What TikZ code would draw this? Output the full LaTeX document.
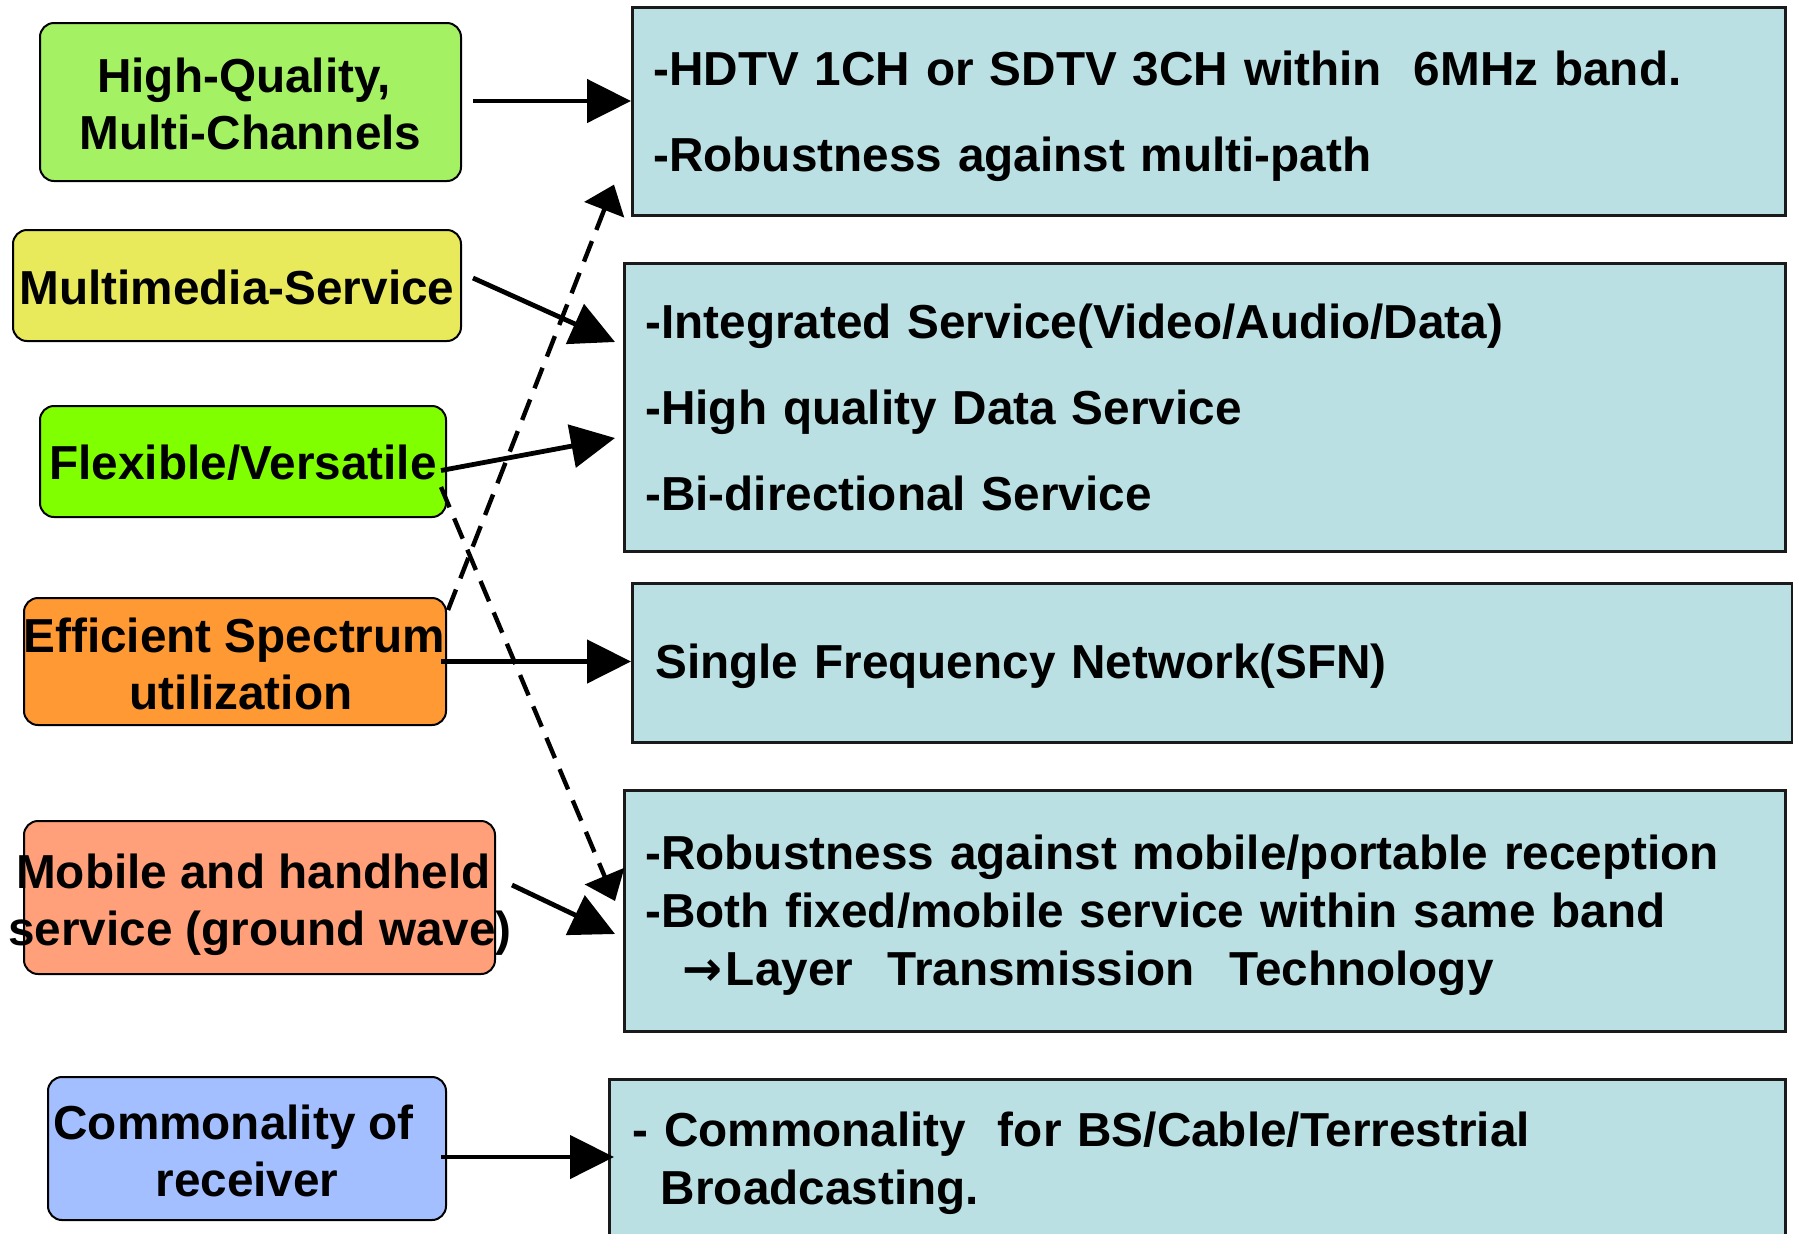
\documentclass[tikz,border=0pt]{standalone}
\usepackage{fontspec}
\setmainfont{Liberation Sans}
\newfontfamily\arrowglyph{DejaVu Sans}
\usetikzlibrary{arrows.meta,calc}

\definecolor{hqgreen}{HTML}{A4F263}
\definecolor{mmyellow}{HTML}{E8EA5C}
\definecolor{fvgreen}{HTML}{80FF00}
\definecolor{esorange}{HTML}{FF9933}
\definecolor{mhsalmon}{HTML}{FFA07A}
\definecolor{crblue}{HTML}{A3BFFF}
\definecolor{boxcyan}{HTML}{BAE0E3}
\definecolor{boxline}{HTML}{1A1A1A}

\begin{document}
\begin{tikzpicture}[x=0.5pt,y=-0.5pt,
  lbox/.style={draw=black, line width=1pt, rounded corners=7pt, inner sep=0pt},
  ltext/.style={font=\fontsize{23.85}{28.5}\selectfont\bfseries, align=center, inner sep=0pt},
  rbox/.style={draw=boxline, line width=1.3pt, fill=boxcyan, anchor=north west,
    align=left, inner ysep=0pt},
  rwide/.style={font=\fontsize{23.85}{43}\selectfont\bfseries},
  rtight/.style={font=\fontsize{23.85}{29}\selectfont\bfseries},
  arr/.style={line width=2.4pt, -{Triangle[length=22pt,width=21.5pt]}},
  darr/.style={line width=2.2pt, dash pattern=on 11pt off 6pt,
    -{Triangle[length=13.5pt,width=21pt]}},
]
\useasboundingbox (0,0) rectangle (1793,1233);

% requirement boxes (left column)
\node[lbox, fill=hqgreen,  minimum width=210.5pt, minimum height=79pt]   (hq) at (250.5,102)    {};
\node[lbox, fill=mmyellow, minimum width=224pt,   minimum height=55.5pt] (mm) at (237,285.5)    {};
\node[lbox, fill=fvgreen,  minimum width=203pt,   minimum height=55.5pt] (fv) at (243,461.5)    {};
\node[lbox, fill=esorange, minimum width=211pt,   minimum height=63.5pt] (es) at (235,661.5)    {};
\node[lbox, fill=mhsalmon, minimum width=235.5pt, minimum height=76.5pt] (mh) at (259.5,897.5)  {};
\node[lbox, fill=crblue,   minimum width=199pt,   minimum height=71.5pt] (cr) at (247,1148.5)   {};

\node[ltext] (hqt) at (250.5,104) {High-Quality,\hspace*{0.28em}\\Multi-Channels};
\node[ltext] (mmt) at (237,287)   {Multimedia-Service};
\node[ltext] (fvt) at (243,463)   {Flexible/Versatile};
\node[ltext] (est) at (241,664)   {Efficient Spectrum\hspace*{0.28em}\\utilization};
\node[ltext] (mht) at (260,904.5) {Mobile and handheld\hspace*{0.28em}\\service (ground wave)};
\node[ltext] (crt) at (247,1151)  {Commonality of\hspace*{0.56em}\\receiver};

% feature boxes (right column); the leading struts set the text's vertical place
\node[rbox, rwide, minimum width=576.5pt, minimum height=104pt,
  text width=555.5pt, inner xsep=10.5pt] (A) at (631,6)
  {\rule{0pt}{22pt}-HDTV 1CH or SDTV 3CH within~~6MHz band.\\-Robustness against multi-path};
\node[rbox, rwide, minimum width=580.5pt, minimum height=144pt,
  text width=559.5pt, inner xsep=10.5pt] (B) at (623,262)
  {-Integrated Service(Video/Audio/Data)\\-High quality Data Service\\-Bi-directional Service};
\node[rbox, rwide, minimum width=580pt, minimum height=79.5pt,
  text width=557pt, inner xsep=11.5pt] (C) at (631,582)
  {\rule{0pt}{20.8pt}Single Frequency Network(SFN)};
\node[rbox, rtight, minimum width=580.5pt, minimum height=120.5pt,
  text width=559.5pt, inner xsep=10.5pt] (D) at (623,789)
  {\rule{0pt}{22pt}-Robustness against mobile/portable reception\\-Both fixed/mobile service within same band\\
   \hspace*{0.69em}\makebox[1em]{\arrowglyph\bfseries →}Layer\hspace{0.72em}Transmission\hspace{0.72em}Technology};
\node[rbox, rtight, minimum width=588pt, minimum height=80pt,
  text width=565pt, inner xsep=11.5pt] (E) at (608,1078)
  {\rule{0pt}{21.4pt}- Commonality~~for BS/Cable/Terrestrial\\\hspace*{0.6em}Broadcasting.};

% solid connectors
\draw[arr] ($(hq.east)+(11,-1)$) coordinate (s1) -- (s1 -| A.west);
\draw[arr] ($(mm.east)+(11,-7.5)$) -- ($(B.north west)+(-8,80)$);
\draw[arr] ($(fv.east)+(-6,9)$) -- ($(B.north west)+(-8,176)$);
\draw[arr] ($(es.east)+(-6,0)$) coordinate (s4) -- (s4 -| C.west);
\draw[arr] ($(mh.east)+(16,-12.5)$) -- ($(D.north west)+(-8,145)$);
\draw[arr] ($(cr.east)+(-6,8.5)$) coordinate (s6) -- ($(s6 -| E.west)+(6,0)$);

% dashed connectors
\draw[darr] ($(es.north east)+(1,13)$) -- ($(A.south west)+(-17,-32)$);
\draw[darr] ($(fv.east)+(-6,25.5)$) -- ($(D.north west)+(-8,112)$);
\end{tikzpicture}
\end{document}
